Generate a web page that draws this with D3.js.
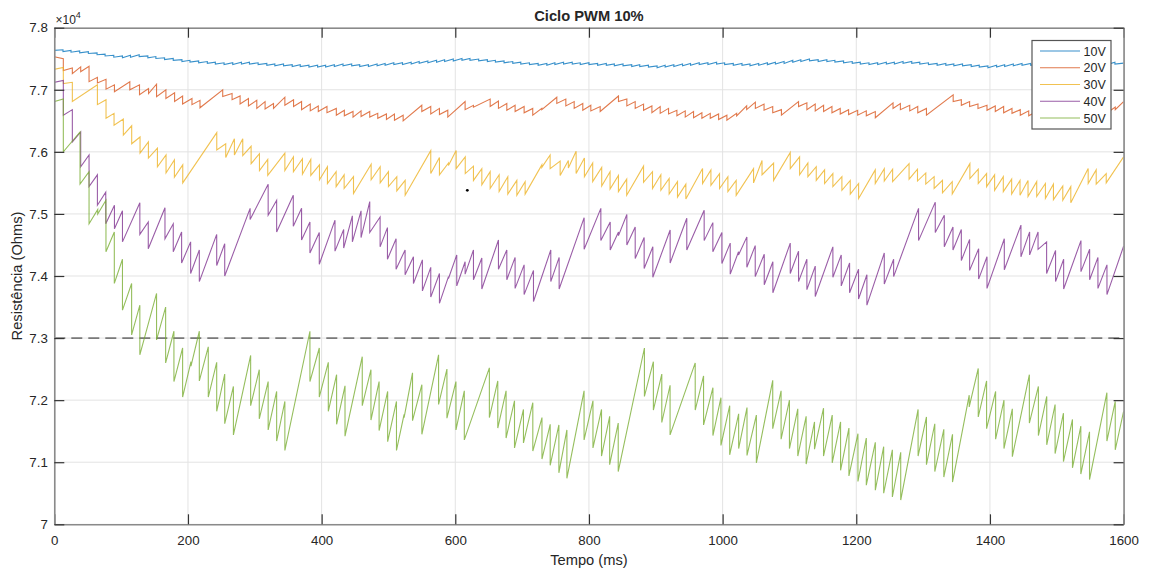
<!DOCTYPE html>
<html><head><meta charset="utf-8">
<script src="https://cdn.jsdelivr.net/npm/d3@7"></script>
<style>
body{margin:0;background:#fff}
svg{display:block}
text{font-family:"Liberation Sans",Arial,Helvetica,sans-serif;fill:#262626}
</style>
</head><body>
<svg id="chart" width="1150" height="571"></svg>
<script>
// ---------------- data (resistance in units of 10^4 Ohms, time in ms) ----------------
const title = "Ciclo PWM 10%";
const xLabel = "Tempo (ms)";
const yLabel = "Resistência (Ohms)";
const xTicks = [0, 200, 400, 600, 800, 1000, 1200, 1400, 1600];
const yTicks = [7.0, 7.1, 7.2, 7.3, 7.4, 7.5, 7.6, 7.7, 7.8];
const yTickLabels = ["7", "7.1", "7.2", "7.3", "7.4", "7.5", "7.6", "7.7", "7.8"];
const seriesNames = ["10V", "20V", "30V", "40V", "50V"];
const seriesColors = ["#0072BD", "#D95319", "#EDB120", "#7E2F8E", "#77AC30"];
const thresholdValue = 7.3;
const strayPoint = [618, 7.538];

// each tooth: [time, value before the drop, value after the drop]
const teeth10V = [
[0,7.7665,7.7635],[13,7.7645,7.7615],[25,7.7635,7.7605],[38,7.7625,7.7595],[51,7.7615,7.7585],
[64,7.7595,7.7565],[76,7.7575,7.7545],[89,7.7555,7.7525],[102,7.7545,7.7515],[114,7.7555,7.7525],
[127,7.7565,7.7535],[140,7.7545,7.7515],[152,7.7535,7.7505],[165,7.7515,7.7485],[178,7.7505,7.7475],
[191,7.7485,7.7455],[203,7.7475,7.7445],[216,7.7465,7.7435],[229,7.7455,7.7425],[241,7.7445,7.7415],
[254,7.7435,7.7405],[267,7.7435,7.7405],[280,7.7445,7.7415],[292,7.7445,7.7415],[305,7.7435,7.7405],
[318,7.7425,7.7395],[330,7.7415,7.7385],[343,7.7415,7.7385],[356,7.7405,7.7375],[368,7.7405,7.7375],
[381,7.7395,7.7365],[394,7.7395,7.7365],[406,7.7395,7.7365],[419,7.7405,7.7375],[432,7.7415,7.7385],
[445,7.7415,7.7385],[457,7.7405,7.7375],[470,7.7405,7.7375],[483,7.7415,7.7385],[495,7.7425,7.7395],
[508,7.7435,7.7405],[521,7.7435,7.7405],[534,7.7445,7.7415],[546,7.7455,7.7425],[559,7.7465,7.7435],
[572,7.7475,7.7445],[584,7.7485,7.7455],[597,7.7495,7.7465],[610,7.7505,7.7475],[622,7.7505,7.7475],
[635,7.7495,7.7465],[648,7.7485,7.7455],[660,7.7475,7.7445],[673,7.7465,7.7435],[686,7.7455,7.7425],
[698,7.7445,7.7415],[711,7.7435,7.7405],[724,7.7425,7.7395],[737,7.7425,7.7395],[749,7.7435,7.7405],
[762,7.7445,7.7415],[775,7.7445,7.7415],[787,7.7435,7.7405],[800,7.7435,7.7405],[813,7.7425,7.7395],
[826,7.7425,7.7395],[838,7.7415,7.7385],[851,7.7415,7.7385],[864,7.7405,7.7375],[876,7.7405,7.7375],
[889,7.7395,7.7365],[902,7.7385,7.7355],[914,7.7395,7.7365],[927,7.7405,7.7375],[940,7.7415,7.7385],
[952,7.7425,7.7395],[965,7.7435,7.7405],[978,7.7435,7.7405],[991,7.7445,7.7415],[1003,7.7435,7.7405],
[1016,7.7425,7.7395],[1029,7.7425,7.7395],[1041,7.7415,7.7385],[1054,7.7425,7.7395],[1067,7.7435,7.7405],
[1079,7.7445,7.7415],[1092,7.7455,7.7425],[1105,7.7475,7.7445],[1117,7.7485,7.7455],[1130,7.7495,7.7465],
[1143,7.7485,7.7455],[1156,7.7485,7.7455],[1168,7.7475,7.7445],[1181,7.7465,7.7435],[1194,7.7455,7.7425],
[1206,7.7445,7.7415],[1219,7.7435,7.7405],[1232,7.7435,7.7405],[1245,7.7445,7.7415],[1257,7.7445,7.7415],
[1270,7.7455,7.7425],[1283,7.7455,7.7425],[1295,7.7445,7.7415],[1308,7.7435,7.7405],[1321,7.7425,7.7395],
[1334,7.7425,7.7395],[1346,7.7415,7.7385],[1359,7.7415,7.7385],[1372,7.7405,7.7375],[1384,7.7395,7.7365],
[1397,7.7385,7.7355],[1410,7.7395,7.7365],[1422,7.7405,7.7375],[1435,7.7415,7.7385],[1448,7.7425,7.7395],
[1461,7.7425,7.7395],[1473,7.7425,7.7395],[1486,7.7425,7.7395],[1499,7.7425,7.7395],[1511,7.7425,7.7395],
[1524,7.7425,7.7395],[1537,7.7425,7.7395],[1549,7.7425,7.7395],[1562,7.7435,7.7405],[1575,7.7435,7.7405],
[1587,7.7445,7.7415]];
const end10V = [1600, 7.743];

const teeth20V = [
[0,7.760,7.753],[13.5,7.750,7.731],[27,7.735,7.726],[39.5,7.737,7.729],[52,7.738,7.713],
[64.5,7.720,7.711],[77.4,7.717,7.701],[90,7.708,7.697],[113,7.713,7.700],[127.5,7.708,7.692],
[141,7.702,7.694],[153,7.709,7.689],[167,7.700,7.686],[180,7.695,7.681],[192,7.690,7.677],
[206,7.686,7.676],[218,7.683,7.671],[252,7.700,7.689],[266,7.694,7.684],[278,7.690,7.677],
[290.5,7.686,7.674],[303,7.683,7.670],[315.4,7.681,7.669],[328,7.678,7.670],[345,7.688,7.675],
[358,7.684,7.673],[370,7.681,7.668],[383,7.677,7.666],[395,7.674,7.665],[408,7.673,7.663],
[422,7.670,7.659],[434,7.667,7.658],[447,7.665,7.656],[459,7.666,7.657],[472,7.665,7.656],
[484,7.662,7.654],[497,7.661,7.652],[509,7.661,7.651],[522,7.659,7.650],[549.9,7.675,7.665],
[563.3,7.673,7.661],[576.3,7.670,7.660],[588.8,7.667,7.656],[614.7,7.681,7.668],[627.2,7.675,7.672],
[652.2,7.685,7.673],[664.6,7.682,7.670],[677.1,7.678,7.667],[689.5,7.675,7.665],[703,7.673,7.663],
[715.9,7.670,7.659],[729.5,7.670,7.668],[751.9,7.688,7.678],[765.4,7.685,7.674],[777.9,7.681,7.670],
[790.8,7.678,7.667],[802.8,7.675,7.666],[816.8,7.673,7.665],[844.2,7.690,7.681],[856.7,7.685,7.674],
[869.2,7.681,7.670],[881.7,7.677,7.667],[894.2,7.674,7.663],[906.6,7.673,7.662],[919.1,7.670,7.661],
[931.6,7.667,7.658],[944.1,7.666,7.656],[956.5,7.665,7.655],[969,7.663,7.654],[981.5,7.662,7.654],
[994,7.661,7.652],[1006.4,7.659,7.651],[1021,7.662,7.658],[1036,7.674,7.668],[1049,7.680,7.670],
[1062,7.677,7.667],[1075,7.673,7.663],[1088,7.668,7.659],[1113.6,7.681,7.673],[1126.1,7.679,7.668],
[1138.6,7.677,7.666],[1151.1,7.675,7.665],[1163.6,7.673,7.663],[1176,7.670,7.661],[1188.5,7.668,7.660],
[1202.1,7.667,7.659],[1215,7.666,7.658],[1228.5,7.665,7.655],[1255,7.679,7.670],[1266,7.678,7.668],
[1280,7.675,7.666],[1292,7.673,7.663],[1305,7.670,7.659],[1345,7.692,7.681],[1357.2,7.684,7.675],
[1369.6,7.681,7.673],[1382.1,7.677,7.670],[1395.6,7.675,7.667],[1408,7.674,7.665],[1420.5,7.673,7.663],
[1433,7.670,7.662],[1445.4,7.668,7.659],[1458,7.666,7.658],[1470,7.665,7.657],[1483,7.664,7.655],
[1496,7.663,7.654],[1508,7.662,7.653],[1521,7.661,7.652],[1534,7.660,7.651],[1546,7.659,7.650],
[1559,7.658,7.650],[1587.5,7.672,7.668]];
const end20V = [1600, 7.681];

const teeth30V = [
[0,7.765,7.733],[13.5,7.736,7.710],[27,7.712,7.681],[64.5,7.708,7.676],[77.4,7.684,7.654],
[89.4,7.662,7.643],[103.3,7.653,7.627],[115.8,7.642,7.613],[128.3,7.624,7.598],[140.8,7.616,7.590],
[154.3,7.606,7.576],[167.2,7.595,7.566],[179.7,7.587,7.559],[192.2,7.579,7.550],[243.1,7.631,7.603],
[256.5,7.613,7.591],[269.5,7.621,7.595],[282,7.621,7.594],[294.5,7.609,7.581],[307,7.597,7.570],
[319.4,7.588,7.562],[345,7.598,7.570],[357.8,7.592,7.568],[371.3,7.589,7.564],[383.8,7.588,7.562],
[396.8,7.579,7.555],[408.7,7.576,7.549],[421.7,7.568,7.544],[433.7,7.563,7.541],[447.7,7.560,7.533],
[474.1,7.580,7.555],[487.6,7.576,7.550],[500,7.568,7.544],[512.5,7.560,7.537],[525,7.554,7.530],
[563.3,7.602,7.565],[576.3,7.591,7.563],[589.8,7.582,7.578],[601.3,7.602,7.573],[614.9,7.592,7.565],
[627.2,7.577,7.554],[639.7,7.573,7.547],[652.2,7.568,7.541],[665.6,7.563,7.536],[678.6,7.560,7.532],
[692.1,7.554,7.530],[704.5,7.552,7.532],[729.5,7.579,7.575],[741.9,7.595,7.573],[756.9,7.585,7.562],
[769.2,7.586,7.574],[780.8,7.601,7.565],[793.2,7.590,7.560],[805.6,7.582,7.552],[819.1,7.575,7.545],
[831.6,7.568,7.540],[844.1,7.562,7.536],[856.5,7.556,7.530],[881.7,7.577,7.551],[895.1,7.568,7.541],
[907.6,7.563,7.538],[920,7.557,7.532],[932.5,7.552,7.527],[945,7.548,7.524],[970,7.573,7.549],
[982.5,7.571,7.546],[995.4,7.565,7.541],[1007.9,7.560,7.536],[1020.3,7.554,7.530],[1046.3,7.573,7.550],
[1059,7.586,7.563],[1076.3,7.582,7.554],[1101.2,7.599,7.573],[1115.2,7.592,7.563],[1127.6,7.582,7.560],
[1140.1,7.576,7.554],[1152.6,7.571,7.549],[1165,7.565,7.544],[1178.5,7.560,7.538],[1191,7.554,7.532],
[1203.5,7.549,7.525],[1228.4,7.571,7.549],[1241.9,7.573,7.553],[1254.4,7.572,7.552],[1279,7.581,7.556],
[1291.6,7.572,7.553],[1304,7.566,7.548],[1316.5,7.560,7.541],[1329,7.554,7.534],[1343.6,7.552,7.532],
[1370,7.581,7.557],[1382.5,7.572,7.549],[1395,7.565,7.544],[1407,7.563,7.538],[1420,7.560,7.536],
[1432.5,7.556,7.532],[1445,7.554,7.530],[1457,7.554,7.528],[1470,7.552,7.528],[1483,7.549,7.525],
[1495,7.548,7.523],[1509,7.545,7.522],[1521,7.544,7.518],[1547,7.573,7.549],[1559,7.571,7.548],
[1574,7.565,7.550]];
const end30V = [1600, 7.592];

const teeth40V = [
[0,7.765,7.712],[13.5,7.715,7.659],[27,7.668,7.616],[39.5,7.632,7.576],[52,7.595,7.544],
[64.5,7.563,7.514],[77,7.535,7.484],[90,7.514,7.476],[102,7.505,7.455],[128,7.518,7.467],
[140.6,7.487,7.444],[165.6,7.510,7.460],[178,7.484,7.439],[190.5,7.471,7.421],[204,7.455,7.404],
[217,7.442,7.391],[243,7.467,7.417],[255,7.452,7.400],[293,7.509,7.491],[320,7.548,7.498],
[332.7,7.522,7.471],[357.6,7.530,7.480],[370,7.509,7.458],[382.5,7.487,7.437],[396.5,7.470,7.419],
[420,7.490,7.440],[433,7.475,7.445],[446,7.497,7.455],[459,7.505,7.462],[472,7.520,7.470],
[487.5,7.495,7.447],[498.5,7.478,7.427],[511.4,7.460,7.411],[524.9,7.442,7.402],[537.4,7.431,7.388],
[550.8,7.426,7.376],[563.3,7.414,7.366],[576.3,7.404,7.356],[589.8,7.399,7.396],[602.2,7.434,7.384],
[614.7,7.423,7.403],[627.2,7.442,7.394],[639.7,7.429,7.379],[664.6,7.458,7.411],[677.1,7.442,7.394],
[689.5,7.430,7.380],[703,7.418,7.370],[717,7.409,7.359],[742.9,7.442,7.391],[755.4,7.430,7.379],
[792.8,7.494,7.443],[817.8,7.509,7.457],[831.8,7.487,7.442],[844.2,7.471,7.465],[856.7,7.499,7.450],
[869.2,7.479,7.428],[882.6,7.462,7.412],[895.6,7.447,7.398],[921.5,7.474,7.421],[946.4,7.493,7.442],
[972.4,7.506,7.457],[985.4,7.486,7.439],[998.9,7.470,7.420],[1011.4,7.453,7.403],[1023.8,7.439,7.434],
[1036.3,7.463,7.414],[1048.8,7.449,7.399],[1062.3,7.435,7.386],[1075.2,7.423,7.373],[1101.2,7.453,7.404],
[1113.6,7.440,7.391],[1126.1,7.427,7.378],[1138.6,7.416,7.367],[1165,7.447,7.398],[1177.5,7.434,7.384],
[1190,7.421,7.373],[1203.4,7.411,7.363],[1215.9,7.402,7.353],[1241.9,7.437,7.387],[1255.9,7.427,7.399],
[1293.2,7.509,7.457],[1318.2,7.519,7.470],[1331.7,7.498,7.447],[1344.7,7.479,7.442],[1357.2,7.475,7.425],
[1369.6,7.459,7.409],[1383.1,7.444,7.395],[1395.6,7.431,7.380],[1421.5,7.460,7.410],[1446.4,7.482,7.431],
[1459.4,7.471,7.434],[1472,7.471,7.443],[1484.8,7.455,7.404],[1498.2,7.441,7.391],[1510.3,7.427,7.379],
[1536.2,7.457,7.407],[1549.2,7.443,7.394],[1561.6,7.430,7.380],[1575.1,7.418,7.370]];
const end40V = [1600, 7.448];

const teeth50V = [
[0,7.765,7.681],[13.5,7.685,7.600],[38.5,7.632,7.548],[52,7.568,7.484],[65,7.507,7.500],
[77.3,7.522,7.439],[89.8,7.471,7.388],[102,7.427,7.345],[115.7,7.388,7.305],[128,7.353,7.273],
[153,7.372,7.297],[166.6,7.350,7.260],[179,7.311,7.230],[192,7.284,7.205],[204.5,7.262,7.255],
[217,7.311,7.231],[230.4,7.286,7.205],[243,7.261,7.182],[255,7.242,7.162],[268,7.222,7.144],
[293.8,7.272,7.191],[306.7,7.249,7.170],[320,7.230,7.152],[332.7,7.214,7.134],[345,7.198,7.119],
[382.5,7.311,7.230],[396.5,7.284,7.205],[410,7.261,7.182],[422.4,7.241,7.161],[435,7.223,7.142],
[460.8,7.270,7.191],[473.8,7.249,7.168],[486,7.230,7.151],[498.8,7.214,7.133],[512,7.198,7.119],
[523.4,7.177,7.172],[536,7.244,7.167],[550,7.225,7.145],[575,7.273,7.193],[587.5,7.250,7.171],
[601,7.230,7.152],[613.5,7.215,7.136],[651,7.252,7.172],[663.6,7.231,7.155],[676,7.215,7.139],
[688.6,7.199,7.123],[702,7.185,7.131],[716,7.196,7.118],[729.7,7.172,7.105],[742,7.161,7.095],
[755,7.160,7.083],[767,7.152,7.074],[792.7,7.215,7.136],[806,7.199,7.123],[818.8,7.185,7.110],
[831,7.174,7.096],[843.8,7.163,7.085],[883,7.284,7.206],[896.4,7.262,7.184],[909,7.242,7.164],
[921.4,7.224,7.144],[959,7.260,7.184],[971.5,7.239,7.160],[985.5,7.220,7.143],[997.5,7.204,7.127],
[1010.6,7.191,7.112],[1024,7.178,7.122],[1036.5,7.188,7.111],[1050.5,7.176,7.099],[1075,7.232,7.154],
[1087.5,7.215,7.137],[1100,7.200,7.122],[1112.5,7.186,7.110],[1125,7.174,7.097],[1137.5,7.165,7.121],
[1151,7.187,7.110],[1164,7.176,7.099],[1176.5,7.165,7.087],[1189,7.155,7.078],[1202.5,7.146,7.069],
[1215,7.139,7.063],[1228.5,7.132,7.055],[1241,7.125,7.050],[1254,7.120,7.044],[1266.5,7.116,7.039],
[1292.5,7.185,7.110],[1305,7.173,7.096],[1317.5,7.162,7.085],[1331,7.153,7.076],[1344,7.145,7.068],
[1369,7.208,7.189],[1382.5,7.251,7.173],[1395,7.231,7.154],[1408.5,7.214,7.137],[1421,7.200,7.122],
[1433.5,7.186,7.109],[1459,7.241,7.163],[1472.5,7.222,7.143],[1485,7.206,7.128],[1497.5,7.193,7.114],
[1510,7.179,7.101],[1523.5,7.169,7.091],[1536,7.158,7.081],[1549,7.149,7.072],[1575,7.212,7.134],
[1587.5,7.198,7.120]];
const end50V = [1600, 7.182];

const seriesTeeth = [teeth10V, teeth20V, teeth30V, teeth40V, teeth50V];
const seriesEnds = [end10V, end20V, end30V, end40V, end50V];

// ---------------- drawing ----------------
const W = 1150, H = 571;
const plot = {left: 54.3, right: 1123.6, top: 27.7, bottom: 524.3};
const svg = d3.select("#chart");

const x = d3.scaleLinear().domain([0, 1600]).range([plot.left, plot.right]);
const y = d3.scaleLinear().domain([7.0, 7.8]).range([plot.bottom, plot.top]);

svg.append("rect").attr("width", W).attr("height", H).attr("fill", "#fff");

// grid
const grid = svg.append("g");
grid.selectAll("line.gx").data(xTicks).join("line")
  .attr("x1", d => x(d)).attr("x2", d => x(d))
  .attr("y1", plot.top).attr("y2", plot.bottom)
  .attr("stroke", "#e3e3e3").attr("stroke-width", 1);
grid.selectAll("line.gy").data(yTicks).join("line")
  .attr("x1", plot.left).attr("x2", plot.right)
  .attr("y1", d => y(d)).attr("y2", d => y(d))
  .attr("stroke", "#e3e3e3").attr("stroke-width", 1);

svg.append("defs").append("clipPath").attr("id", "clip")
  .append("rect").attr("x", plot.left).attr("y", plot.top)
  .attr("width", plot.right - plot.left).attr("height", plot.bottom - plot.top);

// threshold line
svg.append("line")
  .attr("x1", x(0)).attr("x2", x(1600))
  .attr("y1", y(thresholdValue)).attr("y2", y(thresholdValue))
  .attr("stroke", "#7a7a7a").attr("stroke-width", 1.6)
  .attr("stroke-dasharray", "11,6");

// series
const line = d3.line().x(d => x(d[0])).y(d => y(d[1]));
const dataG = svg.append("g").attr("clip-path", "url(#clip)");
seriesTeeth.forEach((teeth, i) => {
  const pts = [];
  teeth.forEach(t => { pts.push([t[0], t[1]]); pts.push([t[0], t[2]]); });
  pts.push(seriesEnds[i]);
  dataG.append("path").datum(pts)
    .attr("d", line)
    .attr("fill", "none")
    .attr("stroke", seriesColors[i])
    .attr("stroke-width", 1.1)
    .attr("stroke-opacity", 0.78)
    .attr("stroke-linejoin", "miter");
});

// stray marker
svg.append("circle").attr("cx", x(strayPoint[0])).attr("cy", y(strayPoint[1]))
  .attr("r", 1.4).attr("fill", "#000");

// axes
function styleAxis(g) {
  g.select(".domain").attr("stroke", "#8a8a8a").attr("stroke-width", 1.6);
  g.selectAll(".tick line").attr("stroke", "#333").attr("stroke-width", 1.2);
  g.selectAll(".tick text").attr("fill", "#262626")
    .style("font-family", '"Liberation Sans",Arial,sans-serif').style("font-size", "13.3px");
}
const fmtY = d => yTickLabels[yTicks.findIndex(v => Math.abs(v - d) < 1e-9)];

svg.append("g").attr("transform", `translate(0,${plot.bottom})`)
  .call(d3.axisBottom(x).tickValues(xTicks).tickSizeInner(-10).tickSizeOuter(0).tickPadding(11).tickFormat(d3.format("d")))
  .call(styleAxis);
svg.append("g").attr("transform", `translate(0,${plot.top})`)
  .call(d3.axisTop(x).tickValues(xTicks).tickSizeInner(-10).tickSizeOuter(0).tickFormat(""))
  .call(styleAxis);
svg.append("g").attr("transform", `translate(${plot.left},0)`)
  .call(d3.axisLeft(y).tickValues(yTicks).tickSizeInner(-10).tickSizeOuter(0).tickPadding(6.5).tickFormat(fmtY))
  .call(styleAxis);
svg.append("g").attr("transform", `translate(${plot.right},0)`)
  .call(d3.axisRight(y).tickValues(yTicks).tickSizeInner(-10).tickSizeOuter(0).tickFormat(""))
  .call(styleAxis);

// exponent label
const ex = svg.append("text").attr("x", 55.5).attr("y", 24).style("font-size", "12px").attr("fill", "#262626");
ex.append("tspan").text("×10");
ex.append("tspan").attr("dy", -6).style("font-size", "9px").text("4");

// title & labels
svg.append("text").attr("x", (plot.left + plot.right) / 2).attr("y", 20.5)
  .attr("text-anchor", "middle").style("font-size", "14.7px").style("font-weight", "bold").text(title);
svg.append("text").attr("x", (plot.left + plot.right) / 2).attr("y", 565)
  .attr("text-anchor", "middle").style("font-size", "14.7px").text(xLabel);
svg.append("text").attr("transform", `translate(22,${(plot.top + plot.bottom) / 2}) rotate(-90)`)
  .attr("text-anchor", "middle").style("font-size", "14.7px").text(yLabel);

// legend
const lg = svg.append("g");
lg.append("rect").attr("x", 1032).attr("y", 40.5).attr("width", 79).attr("height", 88.5)
  .attr("fill", "#fff").attr("stroke", "#555").attr("stroke-width", 1.2);
seriesNames.forEach((name, i) => {
  const cy = 51 + i * 16.75;
  lg.append("line").attr("x1", 1040).attr("x2", 1080).attr("y1", cy).attr("y2", cy)
    .attr("stroke", seriesColors[i]).attr("stroke-width", 1.1).attr("stroke-opacity", 0.78);
  lg.append("text").attr("x", 1083.5).attr("y", cy + 4.5).style("font-size", "12.5px").text(name);
});
</script>
</body></html>
